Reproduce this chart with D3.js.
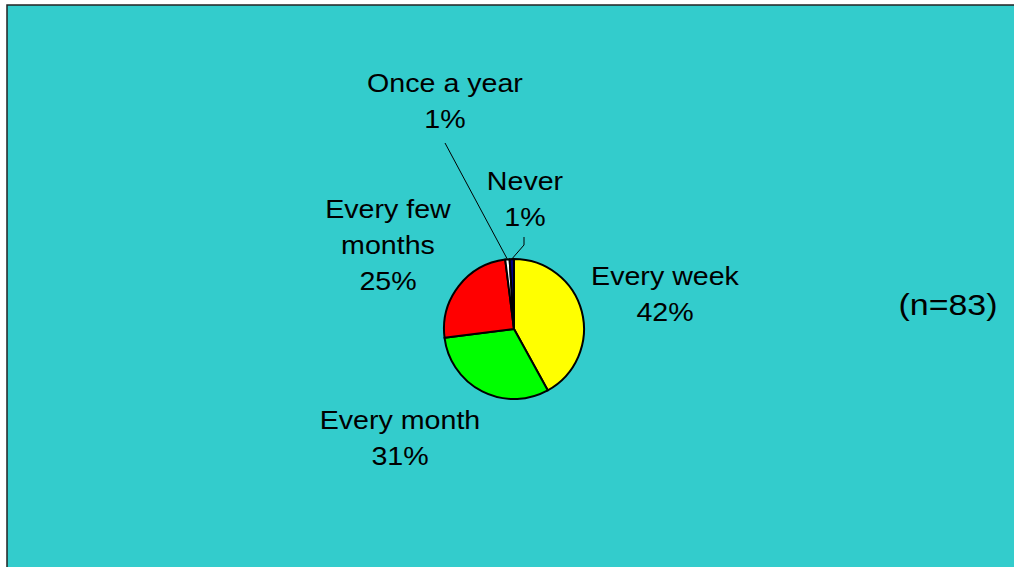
<!DOCTYPE html>
<html>
<head>
<meta charset="utf-8">
<script src="https://cdn.jsdelivr.net/npm/d3@7"></script>
<style>
  html, body { margin: 0; padding: 0; background: #ffffff; }
  svg { display: block; }
  text { font-family: "Liberation Sans", Arial, sans-serif; fill: #000; }
</style>
</head>
<body>
<svg id="chart" width="1014" height="567"></svg>
<script>
// How often respondents do it
const categories = ["Every week", "Every month", "Every few months", "Once a year", "Never"];
const percentages = [42, 31, 25, 1, 1];
const sliceColors = ["#ffff00", "#00ff00", "#ff0000", "#ffffff", "#000080"];
const sampleNote = "(n=83)";

const svg = d3.select("#chart");
const W = 1014, H = 567;

// teal panel with a dark frame on the top and left edges
svg.append("rect")
  .attr("x", 7).attr("y", 5)
  .attr("width", W + 20).attr("height", H + 20)
  .attr("fill", "#33cccc")
  .attr("stroke", "#222")
  .attr("stroke-width", 1.5);

const cx = 514, cy = 329, r = 70;
const g = svg.append("g").attr("transform", `translate(${cx},${cy})`);

const pie = d3.pie().sort(null).value(d => d.value);
const arcs = pie(categories.map((c, i) => ({ name: c, value: percentages[i], color: sliceColors[i] })));
const arc = d3.arc().innerRadius(0).outerRadius(r);

g.selectAll("path.slice")
  .data(arcs)
  .join("path")
  .attr("class", "slice")
  .attr("d", arc)
  .attr("fill", d => d.data.color)
  .attr("stroke", "#000")
  .attr("stroke-width", 2)
  .attr("stroke-linejoin", "round");

// label placement: centre x, first baseline, wrapped lines
const labelLayout = {
  "Every week":       { x: 665, y: 285, lines: ["Every week"] },
  "Every month":      { x: 400, y: 429, lines: ["Every month"] },
  "Every few months": { x: 388, y: 218, lines: ["Every few", "months"] },
  "Once a year":      { x: 445, y: 92,  lines: ["Once a year"] },
  "Never":            { x: 525, y: 190, lines: ["Never"] }
};
const lineGap = 36;
const fontSize = 26;
const stretch = 1.1;

arcs.forEach(d => {
  const L = labelLayout[d.data.name];
  const rows = L.lines.concat([Math.round(d.data.value) + "%"]);
  const t = svg.append("g").attr("transform", `translate(${L.x},${L.y}) scale(${stretch},1)`);
  rows.forEach((row, i) => {
    t.append("text")
      .attr("x", 0).attr("y", i * lineGap)
      .attr("text-anchor", "middle")
      .attr("font-size", fontSize)
      .text(row);
  });
});

// leader lines for the two thin slices, anchored on their outer arcs
function edgePoint(d, k) {
  const a = (d.startAngle + d.endAngle) / 2;
  return [cx + Math.sin(a) * r * k, cy - Math.cos(a) * r * k];
}
const onceArc = arcs[3], neverArc = arcs[4];
const p1 = edgePoint(onceArc, 1.0);
svg.append("path")
  .attr("d", d3.line()([[445, 143], p1]))
  .attr("fill", "none").attr("stroke", "#000").attr("stroke-width", 1);
const p2 = edgePoint(neverArc, 1.0);
svg.append("path")
  .attr("d", d3.line()([[524, 237], [524, 245], p2]))
  .attr("fill", "none").attr("stroke", "#000").attr("stroke-width", 1);

// sample size note
svg.append("g")
  .attr("transform", `translate(948,315) scale(1.17,1)`)
  .append("text")
  .attr("text-anchor", "middle")
  .attr("font-size", 29)
  .text(sampleNote);
</script>
</body>
</html>
